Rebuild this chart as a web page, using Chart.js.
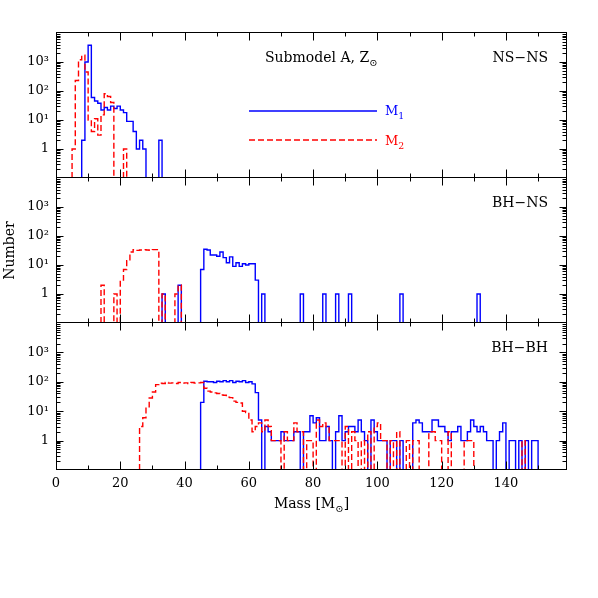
<!DOCTYPE html>
<html>
<head>
<meta charset="utf-8">
<script src="https://cdn.jsdelivr.net/npm/chart.js@4.4.0/dist/chart.umd.min.js"></script>
<style>
  html, body { margin: 0; padding: 0; background: #fff; }
  body { width: 598px; height: 598px; position: relative; overflow: hidden; }
  canvas { position: absolute; left: 0; }
</style>
</head>
<body>
<canvas id="c1" width="598" height="198" style="top:0px"></canvas>
<canvas id="c2" width="598" height="185" style="top:158px"></canvas>
<canvas id="c3" width="598" height="295" style="top:303px"></canvas>
<script>
// --- data (counts per 1 Msun mass bin, first bin given by *Start) ---
const binWidth = 1;
const massRange = [0, 159];
const countRange = [0.1, 10000];
const xTickValues = [0, 20, 40, 60, 80, 100, 120, 140];
const yTickValues = [1, 10, 100, 1000];
const yTickLabels = ["1", "10\u00b9", "10\u00b2", "10\u00b3"];
const panelLabels = ["NS\u2212NS", "BH\u2212NS", "BH\u2212BH"];

const nsnsM1Start = 8;
const nsnsM1 = [2, 1000, 3800, 60, 45, 38, 22, 27, 22, 30, 25, 30, 22, 18, 9, 9, 4, 1, 2, 1, 0, 0, 0, 0, 2];
const nsnsM2Start = 5;
const nsnsM2 = [1, 230, 1200, 1700, 450, 10, 4, 11, 3, 15, 80, 65, 40, 0, 0, 0, 1];

const bhnsM1Start = 33;
const bhnsM1 = [1, 0, 0, 0, 0, 2, 0, 0, 0, 0, 0, 0,
  7, 35, 33, 22, 22, 20, 28, 18, 12, 19, 9, 12, 9, 11, 10, 11, 11, 3, 0, 1,
  0, 0, 0, 0, 0, 0, 0, 0, 0, 0, 0, 1,
  0, 0, 0, 0, 0, 0, 1, 0, 0, 0, 1, 0, 0, 0, 1,
  0, 0, 0, 0, 0, 0, 0, 0, 0, 0, 0, 0, 0, 0, 0, 1,
  0, 0, 0, 0, 0, 0, 0, 0, 0, 0, 0, 0, 0, 0, 0, 0, 0, 0, 0, 0, 0, 0, 0, 1];
const bhnsM2Start = 14;
const bhnsM2 = [2, 0, 0, 0, 1, 0, 3, 7, 14, 28, 34, 32, 33, 34, 33, 32, 34, 34, 0, 1, 0, 0, 0, 1, 2];

const bhbhM1Start = 45;
const bhbhM1 = [20, 105, 100, 100, 95, 105, 100, 110, 100, 110, 95, 105, 100, 110, 95, 100, 85, 43, 5, 0,
  3, 2, 1, 1, 1, 2, 1, 1, 1, 2,
  2, 0, 2, 2, 7, 4, 6, 1, 1, 3,
  1, 0, 2, 7, 1, 2, 3, 3, 2, 5,
  2, 1, 0, 5, 2, 1, 1, 1, 0, 1,
  1, 0, 1, 0, 0, 0, 4, 5, 4, 2,
  2, 2, 5, 5, 3, 3, 2, 1, 2, 2,
  3, 1, 1, 2, 5, 3, 2, 3, 2, 1,
  1, 0, 1, 2, 4, 0, 1, 1, 0, 1,
  0, 1, 0, 1, 1];
const bhbhM2Start = 26;
const bhbhM2 = [3, 6, 14, 28, 45, 80, 90, 88, 95,
  90, 92, 88, 95, 90, 92, 88, 95, 90, 92,
  95, 60, 48, 45, 42, 40, 36, 35, 30, 29,
  22, 20, 19, 10, 9, 5, 2, 3, 4, 2,
  5, 3, 1, 1, 1, 0, 2, 1, 1, 4,
  2, 2, 0, 1, 1, 0, 5, 3, 4, 3,
  1, 1, 1, 1, 0, 3, 0, 2, 1, 0,
  1, 0, 2, 0, 3, 4, 1, 1, 0, 1,
  0, 2, 0, 0, 1, 0, 1, 1, 0, 0,
  0, 2, 2, 1, 1, 0, 0, 2, 0, 0,
  0, 0, 1, 1, 1, 0, 0, 0, 0, 0,
  0, 0, 0, 0, 0, 0, 0, 0, 0, 0, 1];

// --- helpers ---
const serif = '"DejaVu Serif", "Liberation Serif", serif';
const blue = "#0000ff";
const red = "#ff0000";

function fontOf(size) { return size + "px " + serif; }

// step histogram outline; empty bins sit on the axis floor
function stepPoints(start, counts) {
  const floor = countRange[0];
  const pts = [{ x: start, y: floor }];
  counts.forEach((c, i) => pts.push({ x: start + i * binWidth, y: Math.max(c, floor) }));
  pts.push({ x: start + counts.length * binWidth, y: floor });
  return pts;
}

// text with subscript pieces, e.g. M with a small 1 below
function drawRich(ctx, parts, x, y, size, align, color) {
  ctx.fillStyle = color;
  ctx.textBaseline = "alphabetic";
  ctx.textAlign = "left";
  const widths = parts.map(p => { ctx.font = fontOf(p.sub ? size * 0.72 : size); return ctx.measureText(p.t).width; });
  const total = widths.reduce((s, w) => s + w, 0);
  let cx = align === "right" ? x - total : align === "center" ? x - total / 2 : x;
  parts.forEach((p, i) => {
    ctx.font = fontOf(p.sub ? size * 0.72 : size);
    ctx.fillText(p.t, cx, p.sub ? y + size * 0.3 : y);
    cx += widths[i];
  });
}

// frame with inward ticks on all four sides; panels share their boundary line
const framePlugin = {
  id: "frame",
  afterDatasetsDraw(chart) {
    const { ctx, chartArea: a, scales: { x, y } } = chart;
    const L = Math.round(a.left) + 0.5, R = Math.round(a.right) - 0.5;
    const T = Math.round(a.top) - 0.5, B = Math.round(a.bottom) - 0.5;
    ctx.save();
    ctx.strokeStyle = "#000";
    ctx.lineWidth = 1;
    ctx.strokeRect(L, T, R - L, B - T);
    ctx.beginPath();
    for (let v = massRange[0] + 10; v < massRange[1]; v += 10) {
      const px = Math.round(x.getPixelForValue(v)) + 0.5;
      const len = v % 20 === 0 ? 8 : 4;
      ctx.moveTo(px, B); ctx.lineTo(px, B - len);
      ctx.moveTo(px, T); ctx.lineTo(px, T + len);
    }
    for (let d = countRange[0]; d < countRange[1] * 0.99; d *= 10) {
      for (let k = 1; k < 10; k++) {
        if (k === 1 && d === countRange[0]) continue;
        const py = Math.round(y.getPixelForValue(k * d)) + 0.5;
        const len = k === 1 ? 7 : 4;
        ctx.moveTo(L, py); ctx.lineTo(L + len, py);
        ctx.moveTo(R, py); ctx.lineTo(R - len, py);
      }
    }
    ctx.stroke();
    ctx.restore();
  }
};

const textPlugin = {
  id: "panelText",
  afterDraw(chart, args, opts) {
    const { ctx, chartArea: a } = chart;
    ctx.save();
    drawRich(ctx, [{ t: opts.label }], a.right - 19, a.top + 29, 14, "right", "#000");
    if (opts.first) {
      drawRich(ctx, [{ t: "Submodel A, Z" }, { t: "\u2299", sub: true }], a.left + 209, a.top + 29, 14, "left", "#000");
      const x0 = a.left + 193, x1 = a.left + 321;
      const yb = a.top + 78, yr = a.top + 107;
      ctx.lineWidth = 1.4;
      ctx.strokeStyle = blue;
      ctx.beginPath(); ctx.moveTo(x0, yb); ctx.lineTo(x1, yb); ctx.stroke();
      ctx.strokeStyle = red;
      ctx.setLineDash([6, 3]);
      ctx.beginPath(); ctx.moveTo(x0, yr); ctx.lineTo(x1, yr); ctx.stroke();
      ctx.setLineDash([]);
      drawRich(ctx, [{ t: "M" }, { t: "1", sub: true }], x1 + 8, yb + 4, 13, "left", blue);
      drawRich(ctx, [{ t: "M" }, { t: "2", sub: true }], x1 + 8, yr + 5, 13, "left", red);
    }
    if (opts.last) {
      drawRich(ctx, [{ t: "Mass [M" }, { t: "\u2299", sub: true }, { t: "]" }], (a.left + a.right) / 2, a.bottom + 38, 14, "center", "#000");
    }
    ctx.restore();
  }
};

function makePanel(id, index, m1Start, m1, m2Start, m2, pad, isLast) {
  return new Chart(document.getElementById(id), {
    type: "line",
    data: {
      datasets: [
        { label: "M1", data: stepPoints(m1Start, m1), stepped: true, borderColor: blue, borderWidth: 1.4, pointRadius: 0, fill: false, clip: 0, order: 1 },
        { label: "M2", data: stepPoints(m2Start, m2), stepped: true, borderColor: red, borderWidth: 1.4, borderDash: [6, 3], pointRadius: 0, fill: false, clip: 0, order: 0 }
      ]
    },
    options: {
      responsive: false,
      animation: false,
      devicePixelRatio: 1,
      layout: { padding: pad },
      plugins: {
        legend: { display: false },
        tooltip: { enabled: false },
        panelText: { label: panelLabels[index], first: index === 0, last: isLast }
      },
      scales: {
        x: {
          type: "linear",
          min: massRange[0],
          max: massRange[1],
          display: isLast,
          grid: { display: false, drawTicks: false },
          border: { display: false },
          ticks: { color: "#000", font: { family: serif, size: 13 }, padding: 6, maxRotation: 0, autoSkip: false },
          afterBuildTicks: s => { s.ticks = xTickValues.map(v => ({ value: v })); },
          afterFit: s => { s.height = isLast ? 60 : 0; }
        },
        y: {
          type: "logarithmic",
          min: countRange[0],
          max: countRange[1],
          grid: { display: false, drawTicks: false },
          border: { display: false },
          ticks: {
            color: "#000",
            font: { family: serif, size: 13 },
            padding: 7,
            autoSkip: false,
            callback: v => { const i = yTickValues.indexOf(v); return i < 0 ? "" : yTickLabels[i]; }
          },
          afterBuildTicks: s => { s.ticks = yTickValues.map(v => ({ value: v })); },
          afterFit: s => { s.width = 56; },
          title: { display: index === 1, text: "Number", color: "#000", font: { family: serif, size: 14 }, padding: { top: 2, bottom: 0 } }
        }
      }
    },
    plugins: [framePlugin, textPlugin]
  });
}

makePanel("c1", 0, nsnsM1Start, nsnsM1, nsnsM2Start, nsnsM2, { left: 0, right: 31, top: 33, bottom: 20 }, false);
makePanel("c2", 1, bhnsM1Start, bhnsM1, bhnsM2Start, bhnsM2, { left: 0, right: 31, top: 20, bottom: 20 }, false);
makePanel("c3", 2, bhbhM1Start, bhbhM1, bhbhM2Start, bhbhM2, { left: 0, right: 31, top: 20, bottom: 68 }, true);
</script>
</body>
</html>
